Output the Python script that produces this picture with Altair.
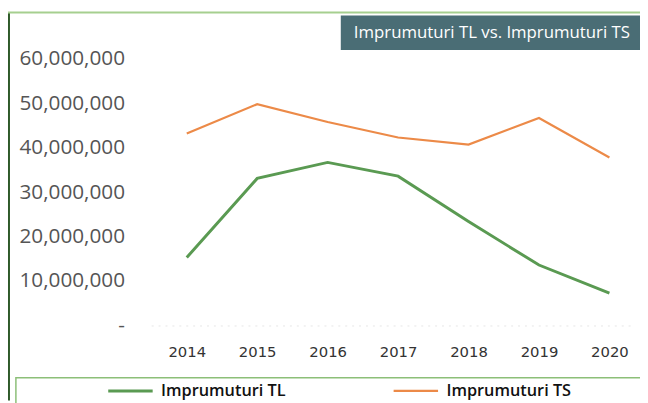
import altair as alt
import pandas as pd

years = [2014, 2015, 2016, 2017, 2018, 2019, 2020]
tl_values = [15.3e6, 33.1e6, 36.7e6, 33.6e6, 23.4e6, 13.6e6, 7.3e6]
ts_values = [43.2e6, 49.8e6, 45.8e6, 42.3e6, 40.7e6, 46.7e6, 37.8e6]
series = ["Imprumuturi TL", "Imprumuturi TS"]
colors = ["#5a9a52", "#ec8a48"]
y_ticks = [0, 10e6, 20e6, 30e6, 40e6, 50e6, 60e6]
title_text = "Imprumuturi TL vs. Imprumuturi TS"

df = pd.DataFrame({
    "year": years + years,
    "value": tl_values + ts_values,
    "series": [series[0]] * len(years) + [series[1]] * len(years),
})
one = pd.DataFrame({"k": [0]})

lines = alt.Chart(df).mark_line().encode(
    x=alt.X("year:Q",
            scale=alt.Scale(domain=[2013.495, 2020.322], nice=False, zero=False),
            axis=alt.Axis(values=years, format="d", title=None, grid=False, ticks=False,
                          tickSize=0, labelPadding=19, labelFontSize=15,
                          labelFont="DejaVu Sans", labelColor="#333333",
                          domainColor="#e6e6e6", domainDash=[2, 5], labelFlush=False)),
    y=alt.Y("value:Q",
            scale=alt.Scale(domain=[0, 60e6], nice=False),
            axis=alt.Axis(values=y_ticks,
                          labelExpr="datum.value == 0 ? '-\u00a0\u00a0' : format(datum.value, ',')",
                          title=None, grid=False, ticks=False, tickSize=0, domain=False,
                          labelAlign="right", labelBaseline="middle", labelPadding=27,
                          labelFontSize=21, labelFont="Open Sans", labelColor="#555555")),
    color=alt.Color("series:N",
                    scale=alt.Scale(domain=series, range=colors),
                    legend=alt.Legend(orient="none", legendX=-45, legendY=312,
                                      direction="horizontal", columns=2, title=None,
                                      symbolType="stroke", symbolSize=2025,
                                      symbolStrokeWidth=3, labelOffset=7,
                                      labelFont="Open Sans", labelFontSize=16.5,
                                      labelFontWeight=600, labelColor="#111111",
                                      columnPadding=104, padding=0, labelLimit=300)),
    strokeWidth=alt.StrokeWidth("series:N",
                                scale=alt.Scale(domain=series, range=[3, 2.2]),
                                legend=None),
)

left_frame = alt.Chart(one).mark_rule(color="#2f5a2a", strokeWidth=2).encode(
    x=alt.value(-144), y=alt.value(-47), y2=alt.value(346))
top_frame = alt.Chart(one).mark_rule(color="#a6cf8f", strokeWidth=2).encode(
    x=alt.value(-145), x2=alt.value(505), y=alt.value(-47))
title_box = alt.Chart(one).mark_rect(color="#4a6d75").encode(
    x=alt.value(192), x2=alt.value(505), y=alt.value(-44), y2=alt.value(-9))
title_label = alt.Chart(one).mark_text(
    color="white", font="Open Sans", fontSize=17, align="center", baseline="middle"
).encode(x=alt.value(345), y=alt.value(-26.5), text=alt.value(title_text))
legend_box = alt.Chart(one).mark_rect(fill="white", stroke="#8cbf78", strokeWidth=1.5).encode(
    x=alt.value(-137), x2=alt.value(505), y=alt.value(323), y2=alt.value(360))

chart = alt.layer(left_frame, top_frame, title_box, title_label, legend_box, lines).properties(
    width=487, height=270,
    autosize=alt.AutoSizeParams(type="none"),
    padding={"left": 145, "top": 49, "right": 8, "bottom": 76},
    background="white",
).configure_view(stroke=None)

chart.save("out.html", embed_options={"renderer": "svg", "actions": False})
